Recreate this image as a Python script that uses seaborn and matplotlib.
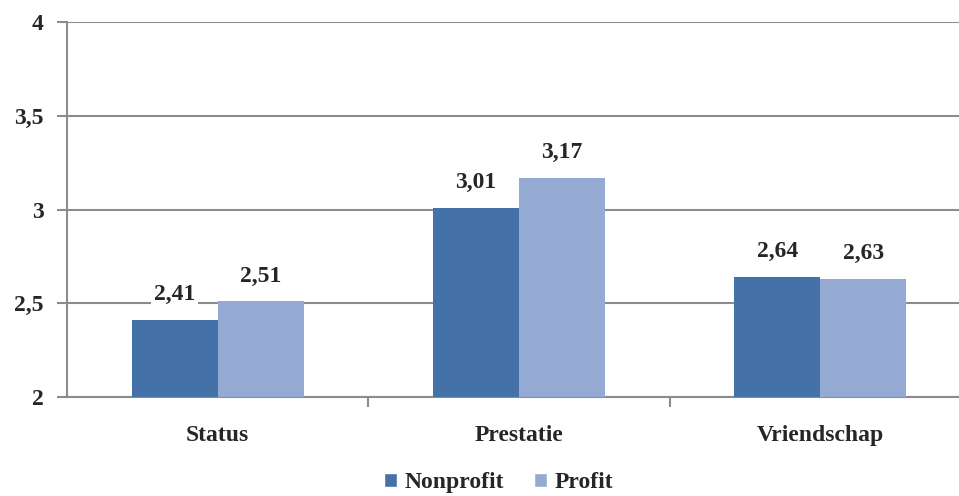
import matplotlib
matplotlib.use('Agg')
import matplotlib.pyplot as plt
from matplotlib.patches import Patch
from matplotlib.ticker import FixedLocator
import seaborn as sns
import pandas as pd

categories = ['Status', 'Prestatie', 'Vriendschap']
nonprofit = [2.41, 3.01, 2.64]
profit = [2.51, 3.17, 2.63]
series_names = ['Nonprofit', 'Profit']
y_ticks = [2, 2.5, 3, 3.5, 4]

colors = ['#4472A8', '#95AAD3']
grid_col = '#8c8c8c'

df = pd.DataFrame({
    'cat': categories * 2,
    'value': nonprofit + profit,
    'series': [series_names[0]] * 3 + [series_names[1]] * 3,
})

sns.set_style('white')
plt.rcParams['font.family'] = ['Liberation Serif', 'DejaVu Serif']
plt.rcParams['font.weight'] = 'bold'
fs = 17

fig = plt.figure(figsize=(9.59, 4.96), dpi=100)
ax = fig.add_axes([67 / 959, 99 / 496, 904 / 959, 375 / 496])

sns.barplot(data=df, x='cat', y='value', hue='series', palette=colors,
            saturation=1, width=0.57, ax=ax, legend=False, zorder=3)
# bars start at 2, not 0
for p in ax.patches:
    h = p.get_height()
    p.set_y(2)
    p.set_height(h - 2)
    p.set_edgecolor('none')

ax.set_xlim(-0.5, 2.5)
ax.set_ylim(2, 4)
ax.set_yticks(y_ticks)
ax.set_yticklabels([f'{t:g}'.replace('.', ',') for t in y_ticks])
ax.yaxis.grid(True, color=grid_col, lw=1.5, zorder=0)
ax.set_axisbelow(True)
ax.set_xlabel('')
ax.set_ylabel('')

for s in ['top', 'right']:
    ax.spines[s].set_visible(False)
for s in ['left', 'bottom']:
    ax.spines[s].set_color(grid_col)
    ax.spines[s].set_linewidth(1.5)

ax.tick_params(axis='y', length=7, width=1.5, color=grid_col, pad=10,
               labelsize=fs, left=True)
ax.tick_params(axis='x', which='major', length=0, pad=20, labelsize=fs)
ax.xaxis.set_minor_locator(FixedLocator([0.5, 1.5]))
ax.tick_params(axis='x', which='minor', length=7, width=1.5, color=grid_col, bottom=True)

# value labels with white box over the gridlines
for cont in ax.containers:
    for p in cont:
        top = p.get_y() + p.get_height()
        ax.text(p.get_x() + p.get_width() / 2, top + 0.135,
                f'{top:.2f}'.replace('.', ','), ha='center', va='center',
                fontsize=fs, fontweight='bold', zorder=4,
                bbox=dict(facecolor='white', edgecolor='none', pad=2))

handles = [Patch(facecolor=c, label=n) for c, n in zip(colors, series_names)]
fig.legend(handles=handles, loc='center', bbox_to_anchor=(0.52, 0.027),
           ncol=2, frameon=False, fontsize=fs, handlelength=0.55,
           handleheight=0.55, handletextpad=0.3, columnspacing=1.3)

plt.savefig('out.png', dpi=100)
plt.close(fig)
